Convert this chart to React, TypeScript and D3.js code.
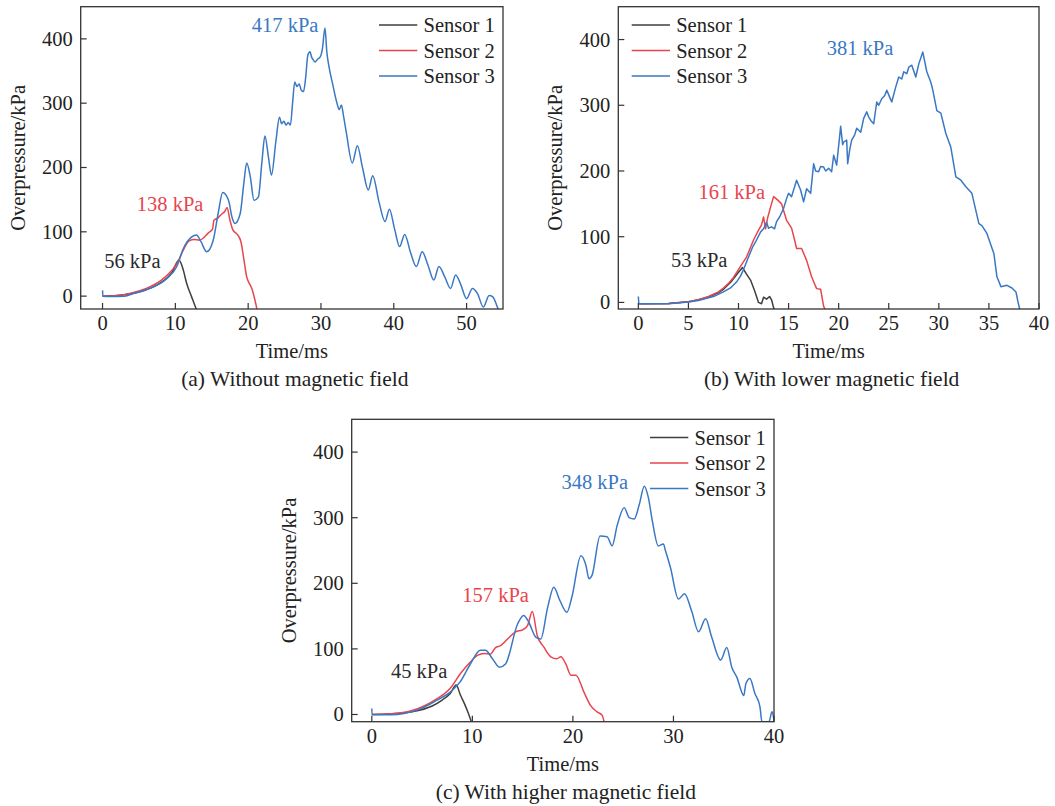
import React from "react";
import * as d3 from "d3";

// ---------- data (time in ms, overpressure in kPa) ----------

// (a) Without magnetic field
const a_sensor1: [number, number][] = [
  [0, 0], [2, 0.8], [4, 4], [6, 10], [8, 21], [9.5, 36], [10.5, 56], [11, 44],
  [11.6, 18], [12.2, 0], [12.8, -18], [13.2, -28],
];
const a_sensor2: [number, number][] = [
  [0, 0], [2, 1], [4, 5], [6, 12], [8, 24], [9.5, 40], [10.3, 52], [11.1, 72],
  [11.9, 86], [12.6, 88], [13.3, 87], [14, 92], [14.5, 98], [15.1, 104], [15.3, 118],
  [15.8, 121], [16.3, 127], [16.8, 132], [17.1, 138], [17.5, 118], [17.9, 103],
  [18.5, 96], [19, 85], [19.4, 58], [19.8, 30], [20.2, 19], [20.5, 12], [21.2, -20],
];
const a_sensor3: [number, number][] = [
  [0, 9], [0.05, 0], [1, -0.5], [3, 0], [4.25, 4], [6.5, 12], [8.8, 27], [10.2, 46],
  [11.1, 74], [12.25, 92], [12.9, 95], [13.5, 85], [14.3, 69], [15.2, 87], [15.9, 130],
  [16.5, 161], [17.3, 149], [17.8, 122], [18.2, 113], [18.9, 128], [19.4, 175],
  [19.8, 207], [20.3, 185], [20.8, 149], [21.4, 154], [21.9, 210], [22.3, 249],
  [22.8, 215], [23.2, 188], [23.8, 240], [24.3, 278], [24.6, 268], [24.9, 272],
  [25.2, 266], [25.5, 270], [25.8, 266], [26.1, 300], [26.4, 333], [26.7, 326],
  [27, 330], [27.3, 320], [27.6, 318], [27.9, 340], [28.2, 375], [28.5, 380],
  [28.7, 372], [28.9, 368], [29.2, 364], [29.5, 368], [29.9, 372], [30.2, 385],
  [30.55, 417], [30.8, 380], [31.1, 357], [31.6, 330], [32.2, 300], [32.5, 290],
  [32.8, 297], [33.1, 280], [33.5, 253], [34.3, 207], [35, 234], [35.7, 200], [36.5, 165],
  [37.1, 187], [38, 145], [38.8, 116], [39.4, 135], [40.1, 105], [40.8, 77],
  [41.5, 96], [42.3, 68], [43.1, 46], [43.9, 69], [44.7, 48], [45.5, 25], [46.2, 46],
  [47, 30], [47.8, 12], [48.5, 33], [49.2, 18], [50, -4], [50.8, 12], [51.5, 4],
  [52.3, -17], [53.1, 1], [53.6, -1], [54.3, -19], [54.8, -30],
];

// (b) With lower magnetic field
const b_sensor1: [number, number][] = [
  [0, -2], [3, -1.5], [5, 1], [6, 4], [7, 8], [8, 15], [8.5, 20], [9.3, 32], [9.9, 44],
  [10.4, 53], [10.8, 43], [11.2, 34], [11.6, 18], [12, 0], [12.3, -2], [12.5, 8],
  [12.8, 5], [13.1, 9], [13.3, 4], [13.5, -8], [13.7, -14],
];
const b_sensor2: [number, number][] = [
  [0, -2], [3, -1.5], [5, 1], [6, 4], [7, 9], [8, 16], [8.5, 22], [9, 29], [9.5, 38],
  [10.2, 55], [10.8, 69], [11.5, 95], [12, 110], [12.3, 118], [12.5, 130], [12.7, 112],
  [12.9, 128], [13.2, 145], [13.5, 161], [13.9, 156], [14.3, 150], [14.6, 135],
  [14.8, 125], [15.3, 113], [15.6, 95], [15.8, 82], [16.3, 82], [16.8, 64], [17.3, 39],
  [17.6, 28], [17.8, 21], [18.2, 20], [18.5, -6], [18.7, -12],
];
const b_sensor3: [number, number][] = [
  [0, 9], [0.05, -2], [3, -2], [5, 0.5], [6, 3], [7, 7], [7.5, 9], [8.5, 16], [9.2, 22],
  [9.8, 31], [10.2, 40], [10.5, 50], [11, 69], [11.4, 84], [11.7, 92], [12.2, 107],
  [12.5, 112], [12.8, 122], [13, 113], [13.3, 115], [13.6, 112], [13.8, 123],
  [14.1, 130], [14.5, 143], [14.8, 158], [15, 166], [15.3, 161], [15.6, 176],
  [15.8, 186], [16.2, 171], [16.5, 153], [16.8, 173], [17.2, 166], [17.5, 211],
  [17.7, 200], [18, 199], [18.2, 207], [18.5, 206], [18.7, 200], [19, 204],
  [19.3, 199], [19.5, 224], [19.8, 209], [20.2, 268], [20.4, 240], [20.5, 244],
  [20.8, 247], [20.9, 211], [21.1, 232], [21.3, 247], [21.6, 255], [21.8, 265],
  [22.2, 259], [22.5, 280], [22.8, 290], [23, 282], [23.2, 277], [23.5, 272],
  [23.8, 305], [24, 300], [24.3, 310], [24.6, 315], [24.8, 323], [25.1, 312],
  [25.3, 305], [25.7, 328], [26, 343], [26.3, 340], [26.5, 351], [26.8, 348],
  [27, 358], [27.3, 361], [27.7, 343], [28, 363], [28.4, 381], [28.8, 351],
  [29.2, 335], [29.4, 323], [29.8, 292], [30.2, 288], [30.7, 257], [31.2, 236],
  [31.7, 191], [32.2, 186], [32.7, 176], [33.3, 166], [34, 120], [34.3, 117],
  [34.8, 105], [35.5, 74], [35.8, 39], [36.2, 24], [36.8, 26], [37.3, 22], [37.7, 16],
  [37.9, 1], [38.1, -12],
];

// (c) With higher magnetic field
const c_sensor1: [number, number][] = [
  [0, 0], [2, 1], [4, 4], [6, 13], [7, 22], [7.8, 32], [8.4, 45], [8.8, 30],
  [9.2, 17], [9.6, 2], [9.9, -11],
];
const c_sensor2: [number, number][] = [
  [0, 0], [2, 1], [4, 6], [5.2, 13], [6.5, 24], [7.8, 40], [8.8, 62], [9.8, 80],
  [10.5, 90], [11.2, 93], [11.8, 92], [12.3, 102], [12.8, 105], [13.5, 115],
  [14.3, 126], [15, 129], [15.5, 136], [15.96, 157], [16.46, 120], [17.1, 103],
  [17.8, 88], [18.4, 85], [18.8, 88], [19.3, 77], [19.8, 60], [20.3, 60], [21.1, 34],
  [21.75, 14], [22.4, 4], [22.9, -1], [23.1, -11],
];
const c_sensor3: [number, number][] = [
  [0, 9], [0.03, 0], [2, -0.5], [3.2, 1.5], [4.9, 9], [6.5, 22], [7.8, 34], [8.8, 50],
  [9.8, 77], [10.8, 98], [11.3, 98], [12, 85], [12.7, 72], [13.3, 77], [14.5, 138],
  [15.1, 151], [15.6, 141], [16.3, 118], [16.8, 115], [17.5, 164], [18.1, 194],
  [18.7, 174], [19.4, 156], [19.9, 179], [20.8, 242], [21.3, 227], [21.6, 207],
  [21.9, 212], [22.7, 272], [23.4, 271], [23.9, 257], [24.4, 288], [25.1, 315],
  [25.6, 300], [26.1, 298], [26.6, 320], [27.1, 348], [27.5, 331], [27.9, 295],
  [28.5, 257], [29, 260], [29.2, 250], [29.7, 224], [30.5, 176], [31.1, 184],
  [31.8, 158], [32.5, 126], [33.2, 146], [33.8, 118], [34.7, 83], [35.3, 102],
  [35.8, 72], [36.3, 57], [37, 29], [37.2, 47], [37.6, 55], [38.1, 32], [38.6, 12],
  [38.8, -11], [39.5, -11], [39.8, 4], [40, -9],
];

const sensorNames = ["Sensor 1", "Sensor 2", "Sensor 3"];
const sensorColors = ["#3f3f3f", "#e8454d", "#3a78c4"];
const yTicks = [0, 100, 200, 300, 400];
const xTicksA = [0, 10, 20, 30, 40, 50];
const xTicksB = [0, 5, 10, 15, 20, 25, 30, 35, 40];
const xTicksC = [0, 10, 20, 30, 40];

// peak labels: [text, time anchor, kPa anchor, sensor index]
const peaksA: [string, number, number, number][] = [
  ["417 kPa", 20.5, 410, 2], ["138 kPa", 4.7, 132, 1], ["56 kPa", 0.23, 43.5, 0],
];
const peaksB: [string, number, number, number][] = [
  ["381 kPa", 18.8, 376, 2], ["161 kPa", 6.0, 157, 1], ["53 kPa", 3.27, 54, 0],
];
const peaksC: [string, number, number, number][] = [
  ["348 kPa", 18.86, 343.6, 2], ["157 kPa", 9.0, 171, 1], ["45 kPa", 1.9, 55, 0],
];

const FONT = "'Liberation Serif', 'Times New Roman', serif";
const FS = 20.5;
const INK = "#222";

type PanelProps = {
  id: string;
  left: number; right: number; top: number; bottom: number;
  xDomain: [number, number]; yDomain: [number, number];
  xTicks: number[];
  series: [number, number][][];
  peaks: [string, number, number, number][];
  legendSide: "left" | "right";
  caption: string;
  jagged?: boolean;
};

function Panel(p: PanelProps) {
  const x = d3.scaleLinear().domain(p.xDomain).range([p.left, p.right]);
  const y = d3.scaleLinear().domain(p.yDomain).range([p.bottom, p.top]);
  const line = d3.line<[number, number]>()
    .x((d) => x(d[0]))
    .y((d) => y(d[1]))
    .curve(p.jagged ? d3.curveLinear : d3.curveMonotoneX);
  const midX = (p.left + p.right) / 2;
  const midY = (p.top + p.bottom) / 2;
  const legX0 = p.legendSide === "right" ? p.right - 124 : p.left + 13.4;
  const legRows = [18.3, 43.8, 69.3];
  const clipId = `clip-${p.id}`;
  return (
    <g>
      <defs>
        <clipPath id={clipId}>
          <rect x={p.left} y={p.top} width={p.right - p.left} height={p.bottom - p.top} />
        </clipPath>
      </defs>
      <g clipPath={`url(#${clipId})`}>
        {p.series.map((s, i) => (
          <path key={i} d={line(s) || ""} fill="none" stroke={sensorColors[i]}
            strokeWidth={1.5} strokeLinejoin="round" />
        ))}
      </g>
      {/* frame */}
      <rect x={p.left} y={p.top} width={p.right - p.left} height={p.bottom - p.top}
        fill="none" stroke="#333" strokeWidth={1.3} />
      {/* y ticks */}
      {yTicks.map((t) => (
        <g key={`y${t}`}>
          <line x1={p.left} x2={p.left + 6} y1={y(t)} y2={y(t)} stroke="#333" strokeWidth={1.2} />
          <text x={p.left - 8} y={y(t) + 7} textAnchor="end" fontFamily={FONT}
            fontSize={FS} fill={INK}>{t}</text>
        </g>
      ))}
      {/* x ticks */}
      {p.xTicks.map((t) => (
        <g key={`x${t}`}>
          <line x1={x(t)} x2={x(t)} y1={p.bottom} y2={p.bottom - 6} stroke="#333" strokeWidth={1.2} />
          <text x={x(t)} y={p.bottom + 21} textAnchor="middle" fontFamily={FONT}
            fontSize={FS} fill={INK}>{t}</text>
        </g>
      ))}
      <text x={midX} y={p.bottom + 49} textAnchor="middle" fontFamily={FONT}
        fontSize={FS} fill={INK}>Time/ms</text>
      <text transform={`translate(${p.left - 56},${midY}) rotate(-90)`} textAnchor="middle"
        fontFamily={FONT} fontSize={FS} fill={INK}>Overpressure/kPa</text>
      <text x={midX + 3} y={p.bottom + 77} textAnchor="middle" fontFamily={FONT}
        fontSize={21.5} fill={INK}>{p.caption}</text>
      {/* legend */}
      {sensorNames.map((n, i) => (
        <g key={n}>
          <line x1={legX0} x2={legX0 + 38.3} y1={p.top + legRows[i]} y2={p.top + legRows[i]}
            stroke={sensorColors[i]} strokeWidth={1.5} />
          <text x={legX0 + 44.5} y={p.top + legRows[i] + 7} fontFamily={FONT}
            fontSize={FS} fill={INK}>{n}</text>
        </g>
      ))}
      {/* peak labels */}
      {p.peaks.map(([txt, tx, ty, si]) => (
        <text key={txt} x={x(tx)} y={y(ty)} fontFamily={FONT} fontSize={FS}
          fill={si === 0 ? "#2a2a2a" : sensorColors[si]}>{txt}</text>
      ))}
    </g>
  );
}

export default function App() {
  return (
    <svg width={1055} height={806} style={{ position: "absolute", left: 0, top: 0, background: "#fff" }}>
      <rect width={1055} height={806} fill="#fff" />
      <Panel id="a" left={80.7} right={503} top={6.7} bottom={309}
        xDomain={[-3, 55]} yDomain={[-20, 450]} xTicks={xTicksA}
        series={[a_sensor1, a_sensor2, a_sensor3]} peaks={peaksA}
        legendSide="right" caption="(a) Without magnetic field" />
      <Panel id="b" left={618.3} right={1039} top={6.7} bottom={309}
        xDomain={[-2, 40]} yDomain={[-10, 450]} xTicks={xTicksB}
        series={[b_sensor1, b_sensor2, b_sensor3]} peaks={peaksB}
        legendSide="left" caption="(b) With lower magnetic field" jagged />
      <Panel id="c" left={351.7} right={774} top={419.3} bottom={721.7}
        xDomain={[-2, 40]} yDomain={[-11, 450]} xTicks={xTicksC}
        series={[c_sensor1, c_sensor2, c_sensor3]} peaks={peaksC}
        legendSide="right" caption="(c) With higher magnetic field" />
    </svg>
  );
}
